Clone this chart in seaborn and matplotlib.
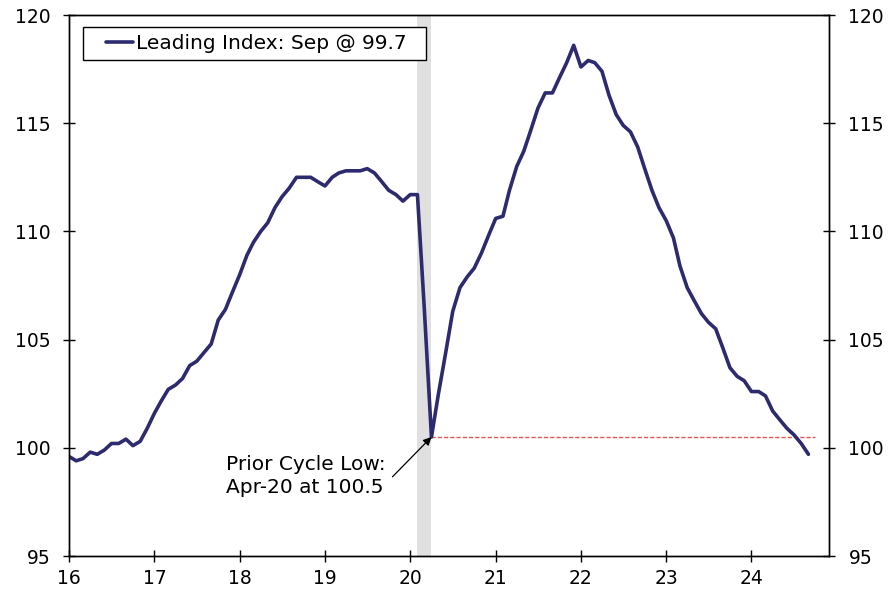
import pandas as pd
import matplotlib.pyplot as plt
import matplotlib.dates as mdates
from matplotlib.lines import Line2D
from matplotlib.legend_handler import HandlerLine2D
import seaborn as sns

# Leading index, monthly values Jan-2016 .. Sep-2024
lei_2016 = [99.6, 99.4, 99.5, 99.8, 99.7, 99.9, 100.2, 100.2, 100.4, 100.1, 100.3, 100.9]
lei_2017 = [101.6, 102.2, 102.7, 102.9, 103.2, 103.8, 104.0, 104.4, 104.8, 105.9, 106.4, 107.2]
lei_2018 = [108.0, 108.9, 109.5, 110.0, 110.4, 111.1, 111.6, 112.0, 112.5, 112.5, 112.5, 112.3]
lei_2019 = [112.1, 112.5, 112.7, 112.8, 112.8, 112.8, 112.9, 112.7, 112.3, 111.9, 111.7, 111.4]
lei_2020 = [111.7, 111.7, 106.5, 100.5, 102.5, 104.4, 106.3, 107.4, 107.9, 108.3, 109.0, 109.8]
lei_2021 = [110.6, 110.7, 111.9, 113.0, 113.7, 114.7, 115.7, 116.4, 116.4, 117.1, 117.8, 118.6]
lei_2022 = [117.6, 117.9, 117.8, 117.4, 116.3, 115.4, 114.9, 114.6, 113.9, 112.9, 111.9, 111.1]
lei_2023 = [110.5, 109.7, 108.4, 107.4, 106.8, 106.2, 105.8, 105.5, 104.6, 103.7, 103.3, 103.1]
lei_2024 = [102.6, 102.6, 102.4, 101.7, 101.3, 100.9, 100.6, 100.2, 99.7]

lei = lei_2016 + lei_2017 + lei_2018 + lei_2019 + lei_2020 + lei_2021 + lei_2022 + lei_2023 + lei_2024
dates = pd.date_range("2016-01-01", periods=len(lei), freq="MS")
df = pd.DataFrame({"date": dates, "lei": lei})

recession = (pd.Timestamp("2020-02-01"), pd.Timestamp("2020-04-01"))
low_date = pd.Timestamp("2020-04-01")
low_value = 100.5
low_line_end = pd.Timestamp("2024-10-01")
legend_label = "Leading Index: Sep @ 99.7  "
note = "Prior Cycle Low:\nApr-20 at 100.5"
y_ticks = [95, 100, 105, 110, 115, 120]

sns.set_style("ticks")
plt.rcParams["font.family"] = ["DejaVu Sans"]
plt.rcParams["text.color"] = "black"
plt.rcParams["xtick.color"] = "black"
plt.rcParams["ytick.color"] = "black"
plt.rcParams["axes.labelcolor"] = "black"

navy = "#2d2a6e"

fig = plt.figure(figsize=(8.91, 5.96), dpi=100)
ax = fig.add_axes([0.0774, 0.0671, 0.853, 0.9077])

ax.axvspan(recession[0], recession[1], color="#e0e0e0", lw=0, zorder=0)
ax.hlines(low_value, low_date, low_line_end, colors="#e4564f",
          linestyles=(0, (3, 1.5)), lw=1, zorder=1)
sns.lineplot(data=df, x="date", y="lei", ax=ax, color=navy, lw=2.6,
             label=legend_label, zorder=3)

ax.set_xlim(pd.Timestamp("2016-01-01"), pd.Timestamp("2024-11-28"))
ax.set_ylim(95, 120)
ax.set_yticks(y_ticks)
ax.xaxis.set_major_locator(mdates.YearLocator())
ax.xaxis.set_major_formatter(mdates.DateFormatter("%y"))
ax.set_xlabel("")
ax.set_ylabel("")

ax2 = ax.twinx()
ax2.set_ylim(95, 120)
ax2.set_yticks(y_ticks)

for a in (ax, ax2):
    for s in a.spines.values():
        s.set_linewidth(1.0)
        s.set_color("black")
ax.tick_params(axis="y", direction="inout", length=9, width=1, labelsize=13.5, pad=9)
ax.tick_params(axis="x", direction="inout", length=9, width=1, labelsize=13.5, pad=4.5)
ax2.tick_params(axis="y", direction="inout", length=9, width=1, labelsize=13.5, pad=9.5)

# annotation for the prior cycle low
ax.text(pd.Timestamp("2017-11-05"), 98.7, note, fontsize=14.5, ha="left", va="center",
        linespacing=1.25)
ax.annotate("", xy=(low_date, low_value), xytext=(pd.Timestamp("2019-10-17"), 98.66),
            arrowprops=dict(arrowstyle="-|>", color="black", lw=0.9,
                            shrinkA=0, shrinkB=0, mutation_scale=12))

leg = ax.legend(loc="upper left", bbox_to_anchor=(0.0184, 0.978), borderaxespad=0,
                fontsize=14.5, frameon=True, fancybox=False, edgecolor="black",
                framealpha=1, borderpad=0.35, handlelength=2.15, handletextpad=0.12,
                handler_map={Line2D: HandlerLine2D(xpad=0.8)})
leg.get_frame().set_linewidth(1.0)

fig.savefig("out.png", dpi=100)
